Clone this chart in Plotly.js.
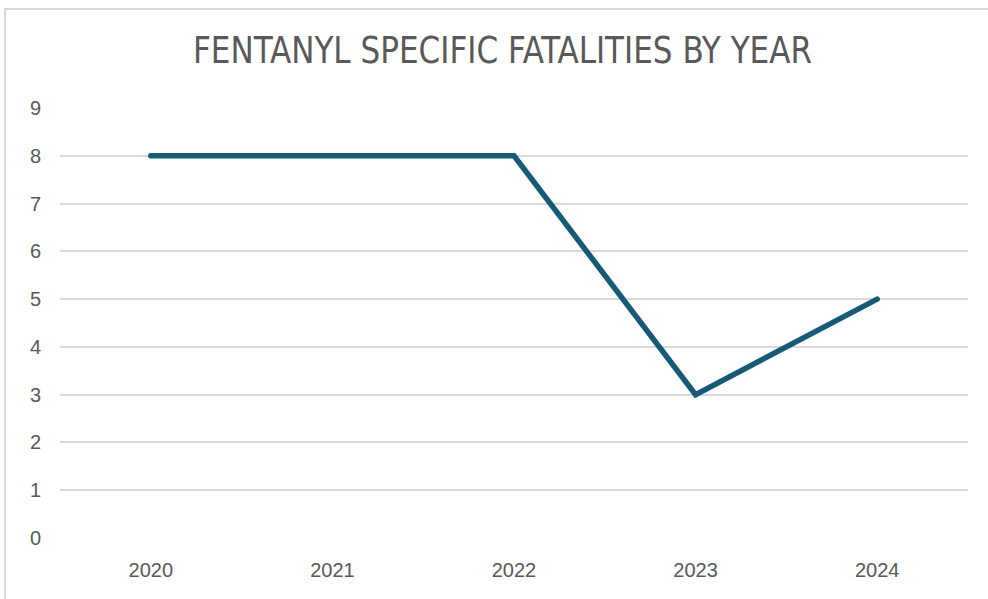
<!DOCTYPE html>
<html>
<head>
<meta charset="utf-8">
<script src="https://cdn.plot.ly/plotly-3.0.1.min.js"></script>
<style>
html,body{margin:0;padding:0;background:#fff;}
#wrap{position:relative;width:988px;height:599px;overflow:hidden;}
#frame{position:absolute;left:4px;top:8px;width:1000px;height:620px;border:2px solid #d9d9d9;box-sizing:border-box;}
#chart{position:absolute;left:0;top:0;width:988px;height:599px;}
#chart .scatterlayer path.js-line{stroke-linecap:round;}
</style>
</head>
<body>
<div id="wrap"><div id="frame"></div><div id="chart"></div></div>
<script>
const years = ['2020','2021','2022','2023','2024'];
const fatalities = [8, 8, 8, 3, 5];
const yTicks = [0,1,2,3,4,5,6,7,8,9];
const chartTitle = 'FENTANYL SPECIFIC FATALITIES BY YEAR';

const trace = {
  x: years, y: fatalities, type: 'scatter', mode: 'lines',
  line: {color: '#175a78', width: 5.5},
  hoverinfo: 'x+y'
};
const layout = {
  width: 988, height: 599,
  paper_bgcolor: 'rgba(0,0,0,0)', plot_bgcolor: 'rgba(0,0,0,0)',
  margin: {l: 60, r: 20, t: 108, b: 61},
  showlegend: false,
  title: {text: chartTitle, x: 0.5, xanchor: 'center', y: 0.916, yanchor: 'middle',
    font: {family: 'DejaVu Sans Condensed, Liberation Sans Narrow, Arial Narrow, sans-serif', size: 37, color: '#595959'}},
  xaxis: {type: 'category', range: [-0.5, 4.5], showgrid: false, zeroline: false, showline: false,
    ticks: '', ticklabelstandoff: 18,
    tickfont: {family: 'Liberation Sans, Arial, sans-serif', size: 20, color: '#595959'}},
  yaxis: {range: [0, 9], tickvals: yTicks, ticktext: yTicks.map(String), showgrid: true,
    gridcolor: '#d9d9d9', gridwidth: 2, zeroline: false, showline: false, ticks: '',
    ticklabelstandoff: 18,
    tickfont: {family: 'Liberation Sans, Arial, sans-serif', size: 20, color: '#595959'}}
};
Plotly.newPlot('chart', [trace], layout, {displayModeBar: false, staticPlot: true}).then(function(gd){
  const t = gd.querySelector('.gtitle');
  if (t) { t.setAttribute('textLength', '619'); t.setAttribute('lengthAdjust', 'spacingAndGlyphs'); t.setAttribute('x', '502.5'); }
});
</script>
</body>
</html>
